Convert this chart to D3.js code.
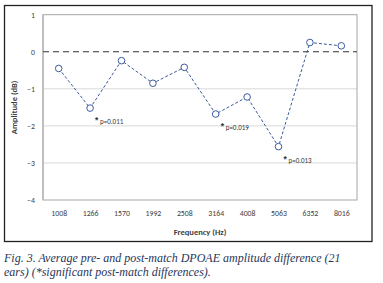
<!DOCTYPE html>
<html>
<head>
<meta charset="utf-8">
<script src="https://cdn.jsdelivr.net/npm/d3@7"></script>
<style>
  body { margin: 0; background: #fff; }
</style>
</head>
<body>
<div id="chart"></div>
<script>
const width = 383, height = 283;

// data
const frequencies = ["1008", "1266", "1570", "1992", "2508", "3164", "4008", "5063", "6352", "8016"];
const amplitudes = [-0.45, -1.52, -0.24, -0.85, -0.42, -1.68, -1.22, -2.56, 0.25, 0.16];
const yTicks = [1, 0, -1, -2, -3, -4];
const notes = [
  { freq: "1266", value: -1.52, label: "p=0.011" },
  { freq: "3164", value: -1.68, label: "p=0.019" },
  { freq: "5063", value: -2.56, label: "p=0.013" }
];
const caption = [
  "Fig. 3. Average pre- and post-match DPOAE amplitude difference (21",
  "ears) (*significant post-match differences)."
];

const plot = { left: 43, right: 357, top: 14.7, bottom: 200 };
const labelFont = "Calibri, Carlito, 'Liberation Sans', sans-serif";

const svg = d3.select("#chart")
  .append("svg")
  .attr("width", width)
  .attr("height", height);

// outer frame
svg.append("rect")
  .attr("x", 4.5).attr("y", 5.5)
  .attr("width", 367.5).attr("height", 236)
  .attr("fill", "#fff")
  .attr("stroke", "#222")
  .attr("stroke-width", 1.3);

const x = d3.scalePoint()
  .domain(frequencies)
  .range([plot.left, plot.right])
  .padding(0.5);

const y = d3.scaleLinear()
  .domain([-4, 1])
  .range([plot.bottom, plot.top]);

// gridlines
svg.append("g")
  .selectAll("line")
  .data(yTicks.filter(d => d !== 0 && d !== 1 && d !== -4))
  .join("line")
  .attr("x1", plot.left).attr("x2", plot.right)
  .attr("y1", d => y(d)).attr("y2", d => y(d))
  .attr("stroke", "#d9d9d9")
  .attr("stroke-width", 1);

// plot border
svg.append("rect")
  .attr("x", plot.left).attr("y", plot.top)
  .attr("width", plot.right - plot.left)
  .attr("height", plot.bottom - plot.top)
  .attr("fill", "none")
  .attr("stroke", "#a6a6a6")
  .attr("stroke-width", 1);

// left axis line
svg.append("line")
  .attr("x1", plot.left).attr("x2", plot.left)
  .attr("y1", plot.top).attr("y2", plot.bottom)
  .attr("stroke", "#bfbfbf")
  .attr("stroke-width", 2);

// zero line
svg.append("line")
  .attr("x1", plot.left).attr("x2", plot.right)
  .attr("y1", y(0)).attr("y2", y(0))
  .attr("stroke", "#333")
  .attr("stroke-width", 1.2)
  .attr("stroke-dasharray", "6,4");

// y axis labels
const yAxis = d3.axisLeft(y).tickValues(yTicks).tickSize(0).tickPadding(8).tickFormat(d3.format("d"));
const gy = svg.append("g")
  .attr("transform", `translate(${plot.left},0)`)
  .call(yAxis);
gy.select(".domain").remove();
gy.selectAll("text")
  .attr("font-family", labelFont)
  .attr("font-size", 7.8)
  .attr("fill", "#404040");

// x axis labels
const xAxis = d3.axisBottom(x).tickSize(0).tickPadding(10);
const gx = svg.append("g")
  .attr("transform", `translate(0,${plot.bottom})`)
  .call(xAxis);
gx.select(".domain").remove();
gx.selectAll("text")
  .attr("font-family", labelFont)
  .attr("font-size", 7.8)
  .attr("fill", "#404040");

// series
const line = d3.line()
  .x((d, i) => x(frequencies[i]))
  .y(d => y(d));

svg.append("path")
  .datum(amplitudes)
  .attr("d", line)
  .attr("fill", "none")
  .attr("stroke", "#3a5a9c")
  .attr("stroke-width", 1)
  .attr("stroke-dasharray", "3,2");

svg.append("g")
  .selectAll("circle")
  .data(amplitudes)
  .join("circle")
  .attr("cx", (d, i) => x(frequencies[i]))
  .attr("cy", d => y(d))
  .attr("r", 3.3)
  .attr("fill", "#fff")
  .attr("stroke", "#3a5a9c")
  .attr("stroke-width", 1);

// significance notes
const ng = svg.append("g")
  .selectAll("g")
  .data(notes)
  .join("g")
  .attr("transform", d => `translate(${x(d.freq) + 5},${y(d.value) + 16})`);
ng.append("text")
  .attr("x", 0).attr("y", -1)
  .attr("font-family", "'Liberation Sans', sans-serif")
  .attr("font-size", 8.5)
  .attr("font-weight", "bold")
  .attr("fill", "#333")
  .text("*");
ng.append("text")
  .attr("x", 5).attr("y", 0)
  .attr("font-family", labelFont)
  .attr("font-size", 7)
  .attr("fill", "#333")
  .text(d => d.label);

// axis titles
svg.append("text")
  .attr("transform", `translate(16.5,${(plot.top + plot.bottom) / 2}) rotate(-90)`)
  .attr("text-anchor", "middle")
  .attr("font-family", labelFont)
  .attr("font-size", 8.5)
  .attr("font-weight", "bold")
  .attr("fill", "#404040")
  .text("Amplitude (dB)");

svg.append("text")
  .attr("x", (plot.left + plot.right) / 2)
  .attr("y", 235)
  .attr("text-anchor", "middle")
  .attr("font-family", labelFont)
  .attr("font-size", 8.5)
  .attr("font-weight", "bold")
  .attr("fill", "#404040")
  .text("Frequency (Hz)");

// caption
svg.append("g")
  .selectAll("text")
  .data(caption)
  .join("text")
  .attr("x", 4)
  .attr("y", (d, i) => 262 + i * 14)
  .attr("font-family", "'Palatino Linotype', 'Liberation Serif', serif")
  .attr("font-style", "italic")
  .attr("font-size", 12)
  .attr("fill", "#27365a")
  .text(d => d);
</script>
</body>
</html>
